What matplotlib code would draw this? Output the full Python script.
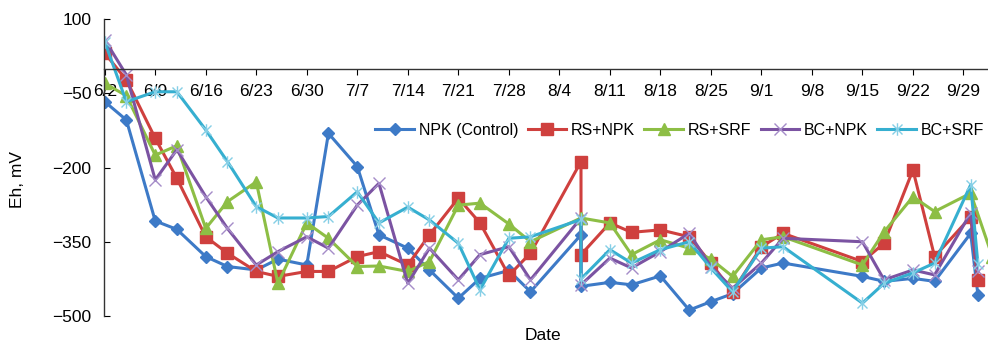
import datetime as dt
import matplotlib
matplotlib.use("Agg")
import matplotlib.pyplot as plt
from matplotlib.path import Path
import numpy as np
import pandas as pd

plt.rcParams['font.family'] = ['Liberation Sans', 'DejaVu Sans']

# sampling dates (two readings on 8/7)
dates = ['6/2', '6/5', '6/9', '6/12', '6/16', '6/19', '6/23', '6/26', '6/30', '7/3',
         '7/7', '7/10', '7/14', '7/17', '7/21', '7/24', '7/28', '7/31', '8/7', '8/7',
         '8/11', '8/14', '8/18', '8/22', '8/25', '8/28', '9/1', '9/4', '9/15', '9/18',
         '9/22', '9/25', '9/30', '10/1', '10/3']

npk = [-67, -104, -308, -325, -380, -400, -407, -385, -397, -131,
       -198, -336, -363, -407, -464, -424, -408, -451, -336, -440,
       -432, -437, -419, -488, -471, -455, -403, -393, -420, -430,
       -424, -430, -333, -457, np.nan]
rs_npk = [31, -23, -141, -222, -340, -373, -410, -420, -410, -410,
          -380, -370, -397, -336, -262, -312, -418, -373, -188, -376,
          -312, -331, -326, -340, -393, -451, -360, -333, -390, -353,
          -205, -380, -300, -428, np.nan]
rs_srf = [-30, -55, -175, -156, -323, -269, -229, -434, -312, -343,
          -400, -399, -410, -390, -276, -272, -314, -350, -302, -302,
          -312, -376, -346, -363, -385, -420, -346, -340, -397, -330,
          -259, -289, -252, np.nan, -380]
bc_npk = [58, -13, -225, -164, -259, -323, -397, -370, -340, -363,
          -276, -232, -434, -363, -427, -376, -360, -427, -302, -437,
          -383, -403, -370, -333, -400, -444, -393, -343, -350, -427,
          -407, -417, -292, -410, np.nan]
bc_srf = [54, -67, -47, -47, -124, -188, -279, -302, -302, -299,
          -249, -312, -280, -306, -353, -447, -343, -340, -305, -425,
          -366, -393, -366, -350, -403, -451, -363, -360, -474, -434,
          -413, -393, -235, -395, np.nan]

tick_labels = ['6/2', '6/9', '6/16', '6/23', '6/30', '7/7', '7/14', '7/21', '7/28',
               '8/4', '8/11', '8/18', '8/25', '9/1', '9/8', '9/15', '9/22', '9/29']
y_ticks = [100, -50, -200, -350, -500]


def to_day(s):
    m, d = s.split('/')
    return (dt.date(2000, int(m), int(d)) - dt.date(2000, 6, 2)).days


# excel style "star" marker: an x with a vertical bar
star = Path([(-1, -1), (1, 1), (-1, 1), (1, -1), (0, -1.25), (0, 1.25)],
            [Path.MOVETO, Path.LINETO, Path.MOVETO, Path.LINETO, Path.MOVETO, Path.LINETO])

df = pd.DataFrame({'NPK (Control)': npk, 'RS+NPK': rs_npk, 'RS+SRF': rs_srf,
                   'BC+NPK': bc_npk, 'BC+SRF': bc_srf})
df['day'] = [to_day(s) for s in dates]

styles = {
    'NPK (Control)': dict(color='#3D7AC7', marker='D', ms=6),
    'RS+NPK': dict(color='#CF403E', marker='s', ms=8),
    'RS+SRF': dict(color='#8DBE45', marker='^', ms=8),
    'BC+NPK': dict(color='#7B53A2', marker='x', ms=8, mew=1.0, mec='#A58CC8'),
    'BC+SRF': dict(color='#36AFD0', marker=star, ms=9, mew=1.0, mec='#86CFE6', mfc='none'),
}

fig = plt.figure(figsize=(9.88, 3.48), dpi=100)
ax = fig.add_axes([104 / 988, 32 / 348, 884 / 988, 297 / 348])

for name, st in styles.items():
    s = df[['day', name]].dropna()
    ax.plot(s['day'], s[name], lw=2.2, **st, label=name)

ax.set_ylim(-500, 100)
ax.set_xlim(-0.1, 122.4)
ax.set_yticks(y_ticks)
ax.set_xticks([to_day(t) for t in tick_labels])
ax.set_xticklabels(tick_labels)

ax.spines['bottom'].set_position(('data', 0))
ax.spines['top'].set_visible(False)
ax.spines['right'].set_visible(False)
for sp in ax.spines.values():
    sp.set_linewidth(1.0)
    sp.set_color('#333333')
ax.tick_params(axis='x', direction='out', length=4, pad=7, labelsize=12.5)
ax.tick_params(axis='y', direction='in', length=4, pad=9, labelsize=12.5)

ax.set_xlabel('Date', fontsize=12.5)
ax.xaxis.set_label_coords(0.497, -0.04)
ax.set_ylabel('Eh, mV', fontsize=12.5)
ax.yaxis.set_label_coords(-0.089, 0.46)

ax.legend(loc='center left', bbox_to_anchor=(0.307, 0.626), ncol=5, frameon=False,
          fontsize=11.5, handlelength=2.4, handletextpad=0.3, columnspacing=0.6,
          borderpad=0, borderaxespad=0)

fig.savefig('out.png', dpi=100)
